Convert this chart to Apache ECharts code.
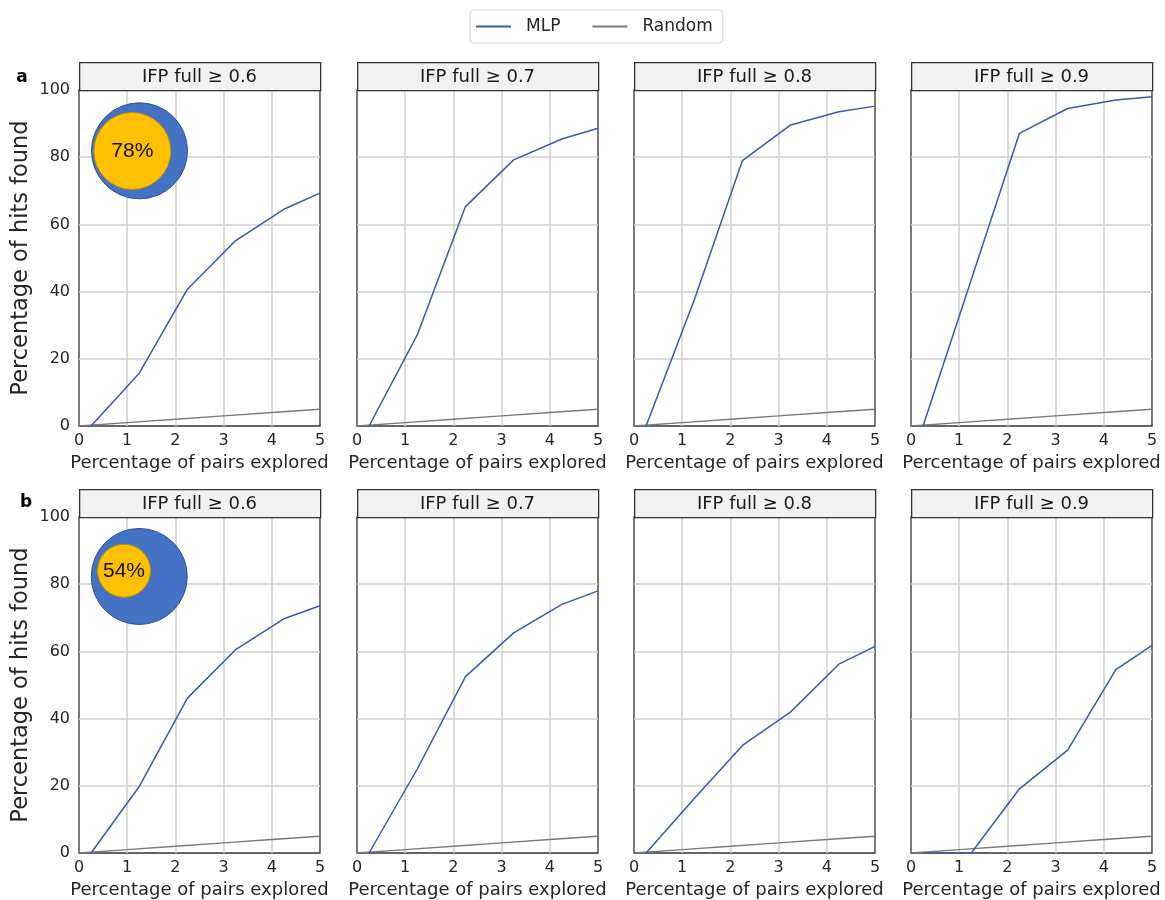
<!DOCTYPE html>
<html>
<head>
<meta charset="utf-8">
<script src="https://cdn.jsdelivr.net/npm/echarts@6/dist/echarts.min.js"></script>
<style>
html,body{margin:0;padding:0;background:#fff;}
#chart{width:1165px;height:900px;}
</style>
</head>
<body>
<div id="chart"></div>
<script>
// ---- data ----
const panelTitles = ['IFP full ≥ 0.6', 'IFP full ≥ 0.7', 'IFP full ≥ 0.8', 'IFP full ≥ 0.9'];
const rowLabels = ['a', 'b'];
const mlpX = [0.25, 1.25, 2.25, 3.25, 4.25, 5];
const randomX = [0, 1, 2, 3, 4, 5];
const randomY = [0, 1, 2, 3, 4, 5];
// row a
const mlpA06 = [0, 15.7, 40.7, 55.2, 64.5, 69.3];
const mlpA07 = [0, 27.1, 65.3, 79.2, 85.4, 88.6];
const mlpA08 = [0, 37.5, 79.0, 89.6, 93.5, 95.2];
const mlpA09 = [0, 43.5, 87.1, 94.5, 97.0, 98.0];
// row b
const mlpB06 = [0, 19.8, 46.1, 60.5, 69.7, 73.6];
const mlpB07 = [0, 25.0, 52.5, 65.5, 74.0, 78.0];
const mlpB08 = [0, 16.2, 32.0, 42.0, 56.2, 61.5];
const mlpB09 = [0, 0, 19.1, 30.6, 54.6, 61.8];
const overlapLabels = ['78%', '54%'];
const xTicks = [0, 1, 2, 3, 4, 5];
const yTicks = [0, 20, 40, 60, 80, 100];

const mlpRows = [[mlpA06, mlpA07, mlpA08, mlpA09], [mlpB06, mlpB07, mlpB08, mlpB09]];

// ---- layout ----
const colLeft = [79, 357, 634, 911];
const rowTop = [90, 517];
const gW = 241, gH = 336, headH = 28;
const txt = '#262626';
const font = 'DejaVu Sans';

const grids = [], xAxes = [], yAxes = [], series = [], graphics = [];
let gi = 0;
for (let r = 0; r < 2; r++) {
  for (let c = 0; c < 4; c++) {
    grids.push({left: colLeft[c], top: rowTop[r], width: gW, height: gH,
      show: true, borderColor: '#333', borderWidth: 1.3, backgroundColor: '#fff', containLabel: false});
    xAxes.push({type: 'value', gridIndex: gi, min: 0, max: 5, interval: 1,
      name: 'Percentage of pairs explored', nameLocation: 'middle', nameGap: 28,
      nameTextStyle: {fontFamily: font, fontSize: 18, color: txt},
      axisLine: {show: false}, axisTick: {show: false},
      axisLabel: {fontFamily: font, fontSize: 16, color: txt, margin: 7,
        formatter: v => xTicks.includes(v) ? String(v) : ''},
      splitLine: {show: true, showMinLine: false, showMaxLine: false, lineStyle: {color: '#cfcfcf', width: 1.5}}});
    yAxes.push({type: 'value', gridIndex: gi, min: 0, max: 100, interval: 20,
      name: c === 0 ? 'Percentage of hits found' : '', nameLocation: 'middle', nameGap: 46,
      nameTextStyle: {fontFamily: font, fontSize: 22.5, color: txt},
      axisLine: {show: false}, axisTick: {show: false},
      axisLabel: {show: c === 0, fontFamily: font, fontSize: 16, color: txt, margin: 9,
        formatter: v => yTicks.includes(v) ? String(v) : ''},
      splitLine: {show: true, showMinLine: false, showMaxLine: false, lineStyle: {color: '#cfcfcf', width: 1.5}}});
    series.push({type: 'line', name: 'Random', xAxisIndex: gi, yAxisIndex: gi,
      data: randomX.map((x, i) => [x, randomY[i]]), symbol: 'none',
      lineStyle: {color: '#7a7a7a', width: 1.4}, itemStyle: {color: '#7a7a7a'}, z: 3, silent: true});
    series.push({type: 'line', name: 'MLP', xAxisIndex: gi, yAxisIndex: gi,
      data: mlpX.map((x, i) => [x, mlpRows[r][c][i]]), symbol: 'none',
      lineStyle: {color: '#3a5ba9', width: 1.5}, itemStyle: {color: '#3a5ba9'}, z: 4, silent: true});
    // header strip
    graphics.push({type: 'rect', left: colLeft[c], top: rowTop[r] - headH,
      shape: {width: gW, height: headH}, style: {fill: '#f2f2f2', stroke: '#333', lineWidth: 1.3}, z: 10});
    graphics.push({type: 'text', x: colLeft[c] + gW / 2, y: rowTop[r] - headH / 2 + 1,
      style: {text: panelTitles[c], fill: '#1a1a1a', font: '18px "DejaVu Sans"', textAlign: 'center', textVerticalAlign: 'middle'}, z: 11});
    gi++;
  }
}
// row labels
graphics.push({type: 'text', x: 22, y: 78, style: {text: rowLabels[0], fill: '#000', font: 'bold 17px "DejaVu Sans"', textAlign: 'center', textVerticalAlign: 'middle'}, z: 11});
graphics.push({type: 'text', x: 26, y: 503, style: {text: rowLabels[1], fill: '#000', font: 'bold 17px "DejaVu Sans"', textAlign: 'center', textVerticalAlign: 'middle'}, z: 11});

// overlap circles (decorative insets), placed in data coordinates of the first column
const insets = [
  {grid: 0, outer: [1.255, 81.9], inner: [1.106, 81.85], outerSize: 96, innerSize: 77, label: overlapLabels[0]},
  {grid: 4, outer: [1.25, 82.3], inner: [0.934, 84.0], outerSize: 96, innerSize: 53, label: overlapLabels[1]}
];
insets.forEach(s => {
  series.push({type: 'scatter', xAxisIndex: s.grid, yAxisIndex: s.grid, silent: true, z: 5,
    data: [s.outer], symbolSize: s.outerSize,
    itemStyle: {color: '#4472c4', borderColor: '#2f528f', borderWidth: 1, opacity: 1}});
  series.push({type: 'scatter', xAxisIndex: s.grid, yAxisIndex: s.grid, silent: true, z: 6,
    data: [s.inner], symbolSize: s.innerSize,
    itemStyle: {color: '#ffc000', borderColor: '#bf9000', borderWidth: 1, opacity: 1},
    label: {show: true, position: 'inside', formatter: s.label, fontFamily: 'Liberation Sans', fontSize: 21, color: '#111'}});
});

const chart = echarts.init(document.getElementById('chart'), null, {renderer: 'canvas'});
chart.setOption({
  animation: false,
  backgroundColor: '#fff',
  textStyle: {fontFamily: font},
  legend: {
    data: ['MLP', 'Random'], left: 470, top: 10,
    itemWidth: 35, itemHeight: 1.8, itemGap: 32,
    padding: [8, 10, 8, 6],
    borderColor: '#d6d6d6', borderWidth: 1, borderRadius: 4,
    textStyle: {fontFamily: font, fontSize: 17, color: txt, padding: [2, 0, 0, 10]},
    icon: 'rect'
  },
  grid: grids, xAxis: xAxes, yAxis: yAxes, series: series, graphic: graphics
});
</script>
</body>
</html>
